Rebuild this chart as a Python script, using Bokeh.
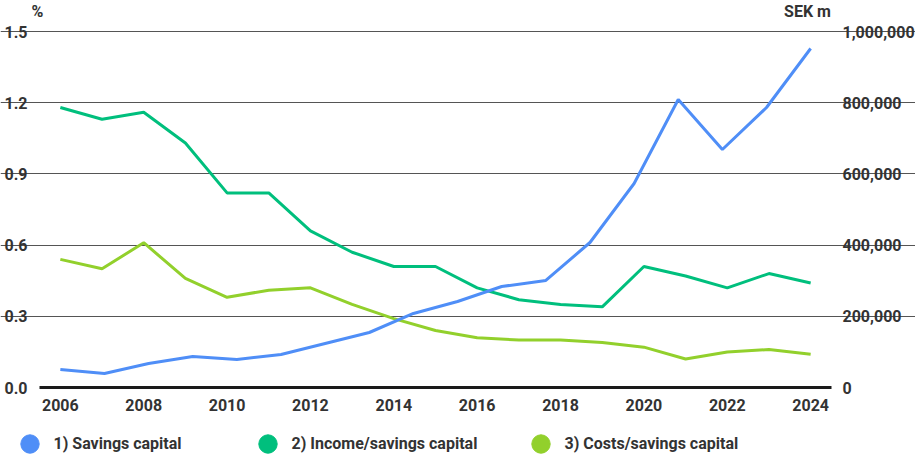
import numpy as np
from bokeh.plotting import figure
from bokeh.models import (Range1d, LinearAxis, FixedTicker, NumeralTickFormatter,
                          Legend, LegendItem)
from bokeh.embed import file_html
from bokeh.resources import INLINE

# ---------------- data ----------------
years = list(range(2006, 2025))
x_ticks = list(range(2006, 2025, 2))
pct_ticks = [0.0, 0.3, 0.6, 0.9, 1.2, 1.5]
sek_ticks = [0, 200000, 400000, 600000, 800000, 1000000]

# 1) Savings capital, SEK m (right axis) – 18 observations spread over the period
savings_capital = [50600, 39300, 67400, 87100, 78700, 92700, 123600, 154500, 207900,
                   241600, 283700, 300600, 407300, 573000, 809000, 668500, 786500, 952200]
savings_x = np.linspace(years[0], years[-1], len(savings_capital))

# 2) Income/savings capital, % (left axis)
income_ratio = [1.18, 1.13, 1.16, 1.03, 0.82, 0.82, 0.66, 0.57, 0.51, 0.51,
                0.42, 0.37, 0.35, 0.34, 0.51, 0.47, 0.42, 0.48, 0.44]
# 3) Costs/savings capital, % (left axis)
cost_ratio = [0.54, 0.50, 0.61, 0.46, 0.38, 0.41, 0.42, 0.35, 0.29, 0.24,
              0.21, 0.20, 0.20, 0.19, 0.17, 0.12, 0.15, 0.16, 0.14]

labels = ["1) Savings capital", "2) Income/savings capital", "3) Costs/savings capital"]
colors = ["#4F8EF7", "#00BF7D", "#92D02C"]
unit_text = ["%", "SEK m"]

TXT = "#333333"
FONT = "Roboto"

# ---------------- layout constants (pixels) ----------------
W, H = 915, 455
PLOT_L, PLOT_R, PLOT_T, ZERO_Y = 39, 831, 31, 387
X0, X1 = 2005.5, 2024.5          # visible data span of the plot area
PCT_MAX, SEK_MAX = 1.5, 1000000

ppx = (PLOT_R - PLOT_L) / (X1 - X0)
x_start = X0 - PLOT_L / ppx
x_end = X1 + (W - PLOT_R) / ppx
ppy = (ZERO_Y - PLOT_T) / PCT_MAX
y_start = -(H - ZERO_Y) / ppy
y_end = PCT_MAX + PLOT_T / ppy

# ---------------- figure ----------------
p = figure(width=W, height=H, output_backend="svg", toolbar_location=None,
           x_range=Range1d(x_start, x_end), y_range=Range1d(y_start, y_end),
           min_border_left=0, min_border_right=0, min_border_top=0,
           min_border_bottom=0)
p.outline_line_color = None
p.background_fill_color = "white"
p.border_fill_color = "white"
p.extra_y_ranges = {"sek": Range1d(y_start / PCT_MAX * SEK_MAX, y_end / PCT_MAX * SEK_MAX)}


def style_axis(ax, standoff):
    ax.major_tick_out = 0
    ax.major_tick_in = 0
    ax.minor_tick_out = 0
    ax.minor_tick_in = 0
    ax.major_tick_line_color = None
    ax.minor_tick_line_color = None
    ax.major_label_standoff = standoff
    ax.major_label_text_font = FONT
    ax.major_label_text_font_style = "bold"
    ax.major_label_text_font_size = "16px"
    ax.major_label_text_color = TXT


# left axis (%)
la = p.left[0]
la.ticker = FixedTicker(ticks=pct_ticks)
la.formatter = NumeralTickFormatter(format="0.0")
la.axis_line_color = None
la.fixed_location = X0
style_axis(la, 12)

# right axis (SEK m)
ra = LinearAxis(y_range_name="sek", ticker=FixedTicker(ticks=sek_ticks),
                formatter=NumeralTickFormatter(format="0,0"), fixed_location=X1)
ra.axis_line_color = None
style_axis(ra, 11)
p.add_layout(ra, "right")

# bottom axis (years) drawn at zero
ba = p.below[0]
ba.ticker = FixedTicker(ticks=x_ticks)
ba.formatter = NumeralTickFormatter(format="0")
ba.axis_line_color = "#1a1a1a"
ba.axis_line_width = 3
ba.fixed_location = 0
ba.bounds = (X0, X1)
style_axis(ba, 11)

# top "axis" carrying the unit captions over the left and right scales
unit_pos = [x_start + (PLOT_L - 2) / ppx, x_start + (PLOT_R - 24) / ppx]
ta = LinearAxis(ticker=FixedTicker(ticks=unit_pos),
                major_label_overrides=dict(zip(unit_pos, unit_text)),
                fixed_location=PCT_MAX)
ta.axis_line_color = None
style_axis(ta, 11)
p.add_layout(ta, "above")

# grid
p.xgrid.grid_line_color = None
p.ygrid.ticker = FixedTicker(ticks=pct_ticks[1:])
p.ygrid.grid_line_color = "#555555"
p.ygrid.grid_line_width = 1
p.ygrid.bounds = (X0, X1)

# lines
p.line(years, income_ratio, line_color=colors[1], line_width=3)
p.line(years, cost_ratio, line_color=colors[2], line_width=3)
p.line(savings_x, savings_capital, y_range_name="sek", line_color=colors[0], line_width=3)

# legend with round swatches below the chart (legend renderers hold no visible point)
legend_centers = [29, 267, 540]
for lab, col, cx in zip(labels, colors, legend_centers):
    r = p.ellipse(x=[np.nan], y=[np.nan], width=10, height=10,
                  width_units="screen", height_units="screen",
                  fill_color=col, line_color=col)
    lg = Legend(items=[LegendItem(label=lab, renderers=[r])],
                location=(cx - 11.5, 0), orientation="horizontal",
                border_line_color=None, background_fill_alpha=0, padding=0, margin=0,
                spacing=0, glyph_width=23, glyph_height=23, label_standoff=13,
                label_text_font=FONT, label_text_font_style="bold",
                label_text_font_size="16px", label_text_color=TXT)
    p.add_layout(lg, "center")

open("out.html", "w").write(file_html(p, INLINE))
